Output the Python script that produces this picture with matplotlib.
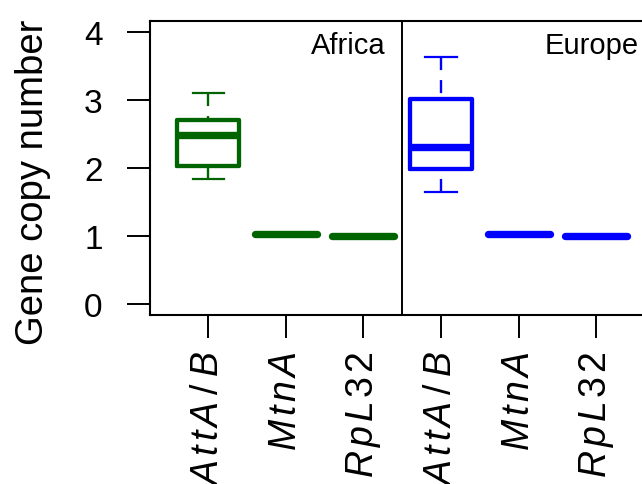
import matplotlib
matplotlib.use("Agg")
import matplotlib.pyplot as plt

plt.rcParams['font.family'] = ['Liberation Sans', 'DejaVu Sans']
plt.rcParams['mathtext.fontset'] = 'custom'
plt.rcParams['mathtext.rm'] = 'Liberation Sans'
plt.rcParams['mathtext.it'] = 'Liberation Sans:italic'
plt.rcParams['mathtext.bf'] = 'Liberation Sans:bold'
plt.rcParams['lines.scale_dashes'] = False

# ---- data ----
regions = ["Africa", "Europe"]
gene_names = ["AttA/B", "MtnA", "RpL32"]
region_colors = ["#006400", "#0000FF"]

africa_whislo = [1.83, 1.025, 1.0]
africa_q1 = [2.02, 1.025, 1.0]
africa_med = [2.48, 1.025, 1.0]
africa_q3 = [2.70, 1.025, 1.0]
africa_whishi = [3.10, 1.025, 1.0]

europe_whislo = [1.64, 1.025, 1.0]
europe_q1 = [1.98, 1.025, 1.0]
europe_med = [2.31, 1.025, 1.0]
europe_q3 = [3.01, 1.025, 1.0]
europe_whishi = [3.63, 1.025, 1.0]

y_ticks = [0, 1, 2, 3, 4]

region_data = [
    (africa_whislo, africa_q1, africa_med, africa_q3, africa_whishi),
    (europe_whislo, europe_q1, europe_med, europe_q3, europe_whishi),
]


def spaced_math(name, gap=0.13, slash_gap=0.22):
    parts = []
    for i, ch in enumerate(name):
        if i > 0:
            g = slash_gap if (ch == "/" or name[i - 1] == "/") else gap
            parts.append(r"\hspace{%g}" % g)
        parts.append(ch)
    return "$" + "".join(parts) + "$"


gene_labels = [spaced_math(n) for n in gene_names]

fig = plt.figure(figsize=(6.42, 4.85), dpi=100)
ax = fig.add_axes([150 / 642, 1 - 316 / 485, 504.4 / 642, (316 - 21.7) / 485])

ngenes = len(gene_names)
for r, (lo, q1, med, q3, hi) in enumerate(region_data):
    color = region_colors[r]
    stats = []
    for g in range(ngenes):
        stats.append(dict(whislo=lo[g], q1=q1[g], med=med[g], q3=q3[g],
                          whishi=hi[g], fliers=[]))
    positions = [r * ngenes + g + 1 for g in range(ngenes)]
    art = ax.bxp(stats, positions=positions, widths=0.8, capwidths=0.4,
                 showfliers=False, manage_ticks=False,
                 boxprops=dict(color=color, linewidth=3.1, solid_joinstyle='round',
                               solid_capstyle='round'),
                 medianprops=dict(color=color, linewidth=5.3, solid_capstyle='butt'),
                 whiskerprops=dict(color=color, linewidth=1.7, linestyle=(0, (9.4, 7.2))),
                 capprops=dict(color=color, linewidth=1.6))
    for w in art['whiskers']:
        x, y = w.get_data()
        w.set_data(list(x)[::-1], list(y)[::-1])
    for g, m in enumerate(art['medians']):
        if q1[g] == q3[g]:
            m.set_solid_capstyle('round')

ax.axvline(3.5, color='black', linewidth=1.4)

ax.set_xlim(0.25, 6.75)
ax.set_ylim(-0.16, 4.16)

ax.set_yticks(y_ticks)
ax.set_yticklabels([str(t) for t in y_ticks], fontsize=24)
ax.set_xticks(range(1, 2 * ngenes + 1))
ax.set_xticklabels(gene_labels * 2, rotation=90, fontsize=27)

ax.tick_params(axis='both', direction='out', length=16.6, width=1.4, color='black')
ax.tick_params(axis='y', pad=17.5)
ax.tick_params(axis='x', pad=9)

for s in ax.spines.values():
    s.set_linewidth(1.5)

ax.text(3.29, 3.685, regions[0], ha='right', va='baseline', fontsize=21)
ax.text(6.55, 3.685, regions[1], ha='right', va='baseline', fontsize=21)

fig.text(33 / 642, 1 - 182 / 485, "Gene copy number", rotation=90,
         ha='center', va='center', fontsize=27.5)

fig.savefig("out.png", dpi=100)
